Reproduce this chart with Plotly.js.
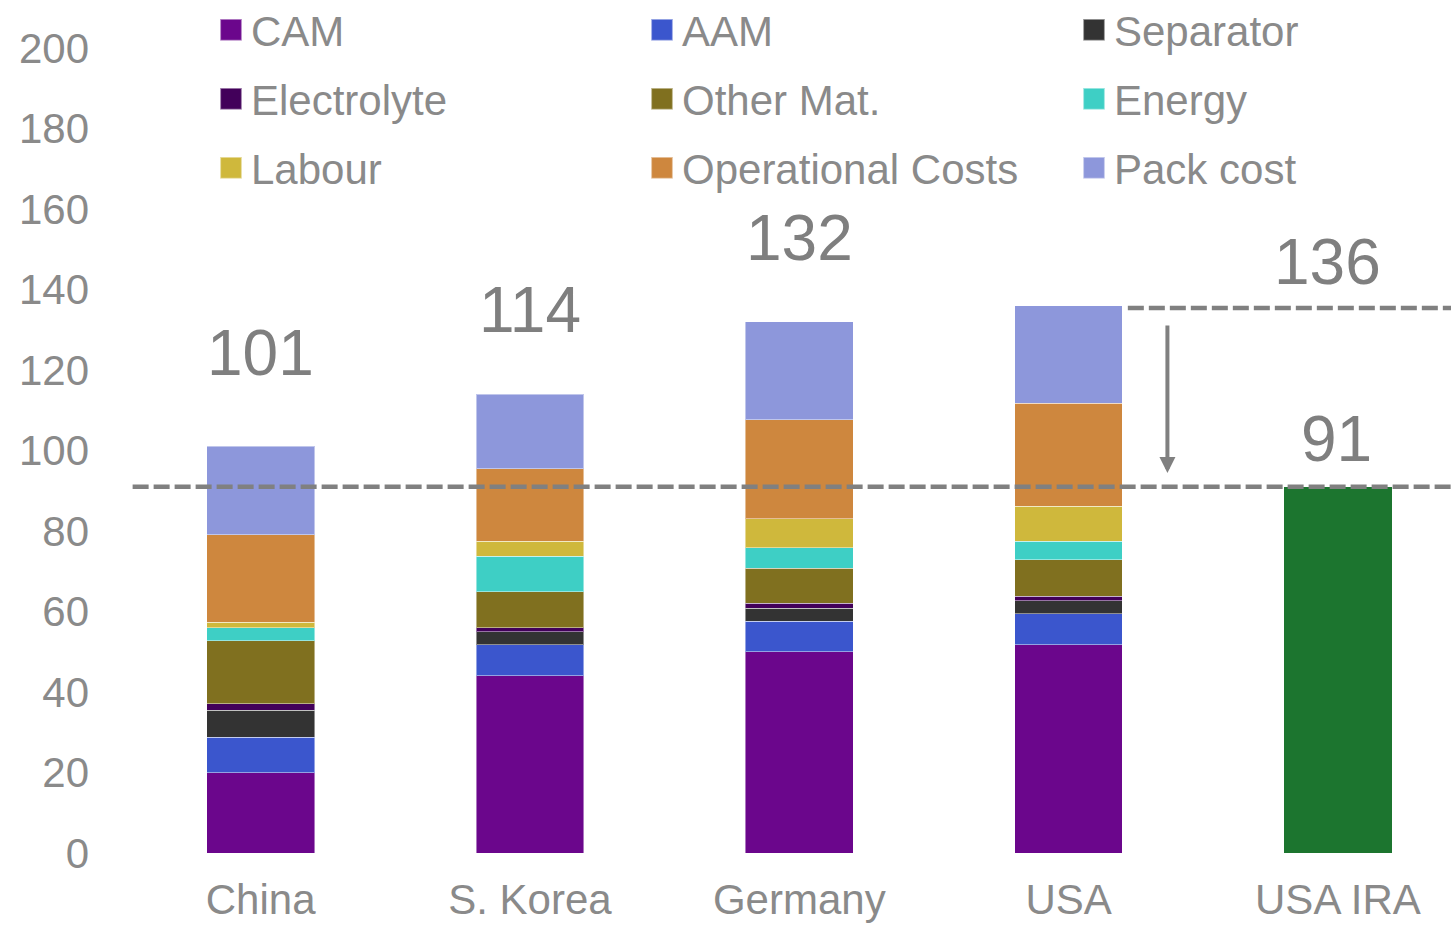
<!DOCTYPE html>
<html>
<head>
<meta charset="utf-8">
<script src="https://cdn.plot.ly/plotly-3.0.1.min.js"></script>
<style>html,body{margin:0;padding:0;background:#fff;}#chart{width:1451px;height:926px;}</style>
</head>
<body>
<div id="chart"></div>
<script>
// ---- data ----
const categories = ["China", "S. Korea", "Germany", "USA"];
const iraCategory = ["USA IRA"];
const CAM        = [20.0, 44.1, 50.0, 51.7];
const AAM        = [8.8, 7.6, 7.6, 7.7];
const Separator  = [6.7, 3.3, 3.2, 3.3];
const Electrolyte= [1.6, 1.0, 1.2, 1.1];
const OtherMat   = [15.6, 8.9, 8.8, 9.0];
const Energy     = [3.3, 8.8, 5.1, 4.7];
const Labour     = [1.3, 3.8, 7.1, 8.7];
const OpCosts    = [21.8, 18.0, 24.6, 25.5];
const PackCost   = [22.0, 18.5, 24.4, 24.3];
const totals     = [101, 114, 132, 136];
const iraValue   = [91];

const seriesNames = ["CAM","AAM","Separator","Electrolyte","Other Mat.","Energy","Labour","Operational Costs","Pack cost"];
const seriesData  = [CAM, AAM, Separator, Electrolyte, OtherMat, Energy, Labour, OpCosts, PackCost];
const seriesColors= ["#6B068C","#3B56CD","#333333","#42005A","#80701F","#3ECFC5","#CFB83C","#CE873E","#8D97DB"];
// legend column assignment (3 columns, row-major like reference)
const legendIds   = ["legend","legend2","legend3","legend","legend2","legend3","legend","legend2","legend3"];

const textGray = "#8a8a8a";
const annGray = "#7f7f7f";
const FONT = "Liberation Sans, Arial, Helvetica, sans-serif";

const traces = seriesNames.map((n, i) => ({
  type: "bar",
  name: n,
  x: categories,
  y: seriesData[i],
  legend: legendIds[i],
  legendgroup: n,
  marker: {color: seriesColors[i], line: {color: "rgba(255,255,255,0.45)", width: 1}},
  hovertemplate: n + ": %{y}<extra>%{x}</extra>"
}));
traces.push({
  type: "bar",
  name: "USA IRA",
  x: iraCategory,
  y: iraValue,
  showlegend: false,
  marker: {color: "#1C752F"},
  hovertemplate: "%{y}<extra>%{x}</extra>"
});

const totalShift = [93, 84, 84, 44];
const annotations = categories.slice(0, 3).map((c, i) => ({
  x: c, y: totals[i], xref: "x", yref: "y",
  text: String(totals[i]), showarrow: false,
  yanchor: "middle", yshift: totalShift[i],
  font: {family: FONT, size: 64, color: annGray}
}));
annotations.push({
  x: iraCategory[0], y: totals[3], xref: "x", yref: "y",
  text: String(totals[3]), showarrow: false,
  yanchor: "middle", yshift: 44, xshift: -10,
  font: {family: FONT, size: 64, color: annGray}
});
annotations.push({
  x: iraCategory[0], y: iraValue[0], xref: "x", yref: "y",
  text: String(iraValue[0]), showarrow: false,
  yanchor: "middle", yshift: 48, xshift: -1,
  font: {family: FONT, size: 64, color: annGray}
});
// downward arrow from USA total to IRA level
annotations.push({
  x: 3.367, y: iraValue[0] + 3.4, xref: "x", yref: "y",
  ax: 3.367, ay: totals[3] - 4.6, axref: "x", ayref: "y",
  text: "", showarrow: true, arrowhead: 2, arrowsize: 0.8, arrowwidth: 4,
  arrowcolor: "#808080"
});

const shapes = [
  {type: "line", xref: "paper", yref: "y", x0: 0.005, x1: 1, y0: iraValue[0], y1: iraValue[0],
   line: {color: "#808080", width: 4.5, dash: "16px,5px"}},
  {type: "line", xref: "x", yref: "y", x0: 3.22, x1: 4.42, y0: totals[3] - 0.6, y1: totals[3] - 0.6,
   line: {color: "#808080", width: 4.5, dash: "16px,5px"}}
];

const legendBase = {
  orientation: "v", xref: "container", yref: "paper", yanchor: "top", xanchor: "left",
  y: 1 + 52/805, bgcolor: "rgba(0,0,0,0)", traceorder: "grouped", tracegroupgap: 11.4,
  font: {family: FONT, size: 42, color: textGray}
};

const layout = {
  width: 1451, height: 926,
  margin: {l: 126, r: 0, t: 48, b: 73, autoexpand: false},
  paper_bgcolor: "#fff", plot_bgcolor: "#fff",
  barmode: "stack", bargap: 0.6,
  font: {family: FONT, color: textGray},
  xaxis: {
    type: "category",
    range: [-0.5, 4.42], categoryorder: "array", categoryarray: categories.concat(iraCategory),
    showgrid: false, zeroline: false, showline: false, ticks: "",
    ticklabelstandoff: 18,
    tickfont: {family: FONT, size: 42, color: textGray}, fixedrange: true, automargin: false
  },
  yaxis: {
    range: [0, 200], tickvals: [0,20,40,60,80,100,120,140,160,180,200],
    showgrid: false, zeroline: false, showline: false, ticks: "",
    ticklabelstandoff: 36, automargin: false,
    tickfont: {family: FONT, size: 42, color: textGray}, fixedrange: true
  },
  legend: Object.assign({}, legendBase, {x: 211/1451}),
  legend2: Object.assign({}, legendBase, {x: 642/1451}),
  legend3: Object.assign({}, legendBase, {x: 1074/1451}),
  annotations: annotations,
  shapes: shapes,
  showlegend: true
};

function enlargeLegendSymbols() {
  document.querySelectorAll(".legendpoints path").forEach(p => p.setAttribute("transform", "translate(20,0) scale(1.8)"));
}
Plotly.newPlot("chart", traces, layout, {displayModeBar: false}).then(() => {
  enlargeLegendSymbols();
  setTimeout(enlargeLegendSymbols, 50);
});
</script>
</body>
</html>
